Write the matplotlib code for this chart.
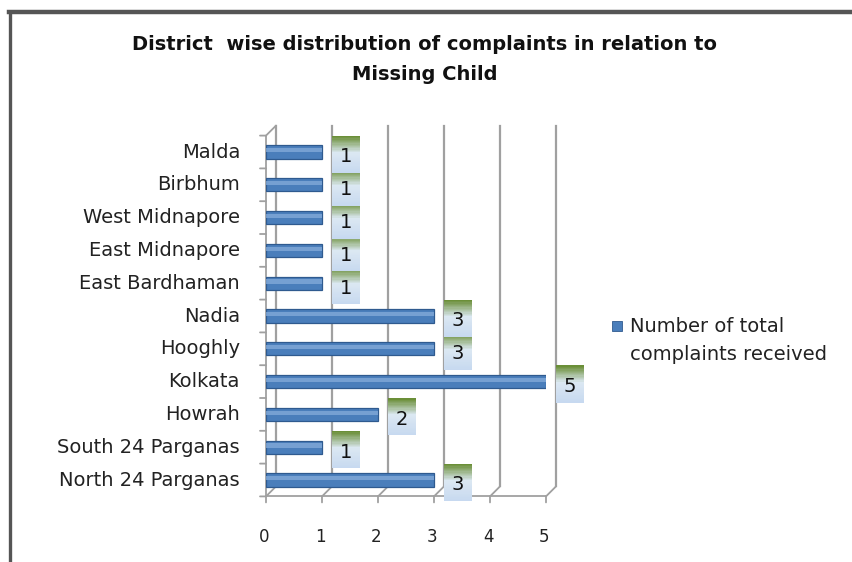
import numpy as np
import matplotlib.pyplot as plt
import matplotlib.transforms as mtransforms
from matplotlib.patches import Rectangle
from matplotlib.lines import Line2D

# Data
districts = ['North 24 Parganas', 'South 24 Parganas', 'Howrah', 'Kolkata', 'Hooghly',
             'Nadia', 'East Bardhaman', 'East Midnapore', 'West Midnapore', 'Birbhum', 'Malda']
complaints = [3, 1, 2, 5, 3, 3, 1, 1, 1, 1, 1]
x_ticks = [0, 1, 2, 3, 4, 5]
title_lines = ['District  wise distribution of complaints in relation to', 'Missing Child']
legend_lines = ['Number of total', 'complaints received']

W, H = 852, 562
fig = plt.figure(figsize=(W / 100, H / 100), dpi=100)
fig.patch.set_facecolor('white')

# axes placed in pixels
x0, x5 = 266, 546
y_bot, y_top = 496.4, 135.6
ax = fig.add_axes([x0 / W, (H - y_bot) / H, (x5 - x0) / W, (y_bot - y_top) / H])
ax.set_xlim(0, 5)
ax.set_ylim(-0.5, len(districts) - 0.5)
ax.axis('off')

# depth offset (pixels) for the pseudo 3D wall
dx, dy = 10, 10
back = mtransforms.offset_copy(ax.transData, fig=fig, x=dx, y=dy, units='dots')
grid_col = '#a0a0a0'
ny = len(districts)
seg = dict(arrowstyle='-', color=grid_col, lw=1.3, shrinkA=0, shrinkB=0)

# back wall grid lines
for t in x_ticks:
    ax.plot([t, t], [-0.5, ny - 0.5], transform=back, color=grid_col, lw=1.6,
            clip_on=False, zorder=1)

# floor slants, front axis ticks and labels
for t in x_ticks:
    ax.annotate('', xy=(t, -0.5), xytext=(dx, dy), textcoords='offset pixels',
                arrowprops=seg, annotation_clip=False)
    ax.annotate('', xy=(t, -0.5), xytext=(0, -6), textcoords='offset pixels',
                arrowprops=seg, annotation_clip=False)
    ax.annotate(str(t), xy=(t, -0.5), xytext=(-2, -41), textcoords='offset pixels',
                ha='center', va='center', fontsize=12, color='#222222', annotation_clip=False)
ax.plot([0, 5], [-0.5, -0.5], color=grid_col, lw=1.3, clip_on=False, zorder=2)

# left wall: front line, top slant, tick marks
ax.plot([0, 0], [-0.5, ny - 0.5], color=grid_col, lw=1.3, clip_on=False, zorder=2)
ax.annotate('', xy=(0, ny - 0.5), xytext=(dx, dy), textcoords='offset pixels',
            arrowprops=seg, annotation_clip=False)
for k in range(ny + 1):
    ax.annotate('', xy=(0, k - 0.5), xytext=(-6, 0), textcoords='offset pixels',
                arrowprops=seg, annotation_clip=False)

# bars (cylinder-like)
ys = np.arange(ny)
ax.barh(ys, complaints, height=0.40, color='#4a7ebb', edgecolor='#2f5a8f', lw=0.9, zorder=4)
ax.barh(ys + 0.05, complaints, height=0.13, color='#86acdb', lw=0, zorder=5, alpha=0.75)

# value label boxes (green fading into light blue)
sy = 32.8
box_w, box_h = 28 / 56, 37 / sy
top_c = np.array([0.42, 0.56, 0.22])
mid_c = np.array([0.86, 0.91, 0.95])
bot_c = np.array([0.78, 0.85, 0.94])
n = 30
for yv, v in zip(ys, complaints):
    by = yv - 31 / sy
    for i in range(n):
        f = i / (n - 1)  # 0 bottom -> 1 top
        if f > 0.55:
            g = (f - 0.55) / 0.45
            col = mid_c * (1 - g) + top_c * g
        else:
            g = f / 0.55
            col = bot_c * (1 - g) + mid_c * g
        ax.add_patch(Rectangle((v, by + box_h * i / n), box_w, box_h / n + 0.01,
                               transform=back, facecolor=col, lw=0, clip_on=False, zorder=3))
    ax.text(v + box_w / 2, yv - 15 / sy, str(v), transform=back, ha='center', va='center',
            fontsize=14, color='#111111', zorder=6, clip_on=False)

# category labels
for yv, name in zip(ys, districts):
    ax.annotate(name, xy=(0, yv), xytext=(-26, 0), textcoords='offset pixels',
                ha='right', va='center', fontsize=14, color='#222222', annotation_clip=False)

# title
fig.text(425 / W, 1 - 44 / H, title_lines[0], ha='center', va='center',
         fontsize=14, fontweight='bold', color='#111111')
fig.text(425 / W, 1 - 75 / H, title_lines[1], ha='center', va='center',
         fontsize=14, fontweight='bold', color='#111111')

# legend
fig.patches.append(Rectangle((612 / W, 1 - 331 / H), 10 / W, 10 / H, transform=fig.transFigure,
                             facecolor='#4a7ebb', edgecolor='#2f5a8f', lw=0.6))
fig.text(630 / W, 1 - 326 / H, legend_lines[0], ha='left', va='center', fontsize=14, color='#222222')
fig.text(630 / W, 1 - 355 / H, legend_lines[1], ha='left', va='center', fontsize=14, color='#222222')

# outer frame
fig.add_artist(Line2D([9 / W, 1], [1 - 12 / H, 1 - 12 / H], transform=fig.transFigure,
                      color='#555555', lw=3.2))
fig.add_artist(Line2D([10 / W, 10 / W], [0, 1 - 12 / H], transform=fig.transFigure,
                      color='#555555', lw=2.4))

fig.savefig('out.png', dpi=100)
